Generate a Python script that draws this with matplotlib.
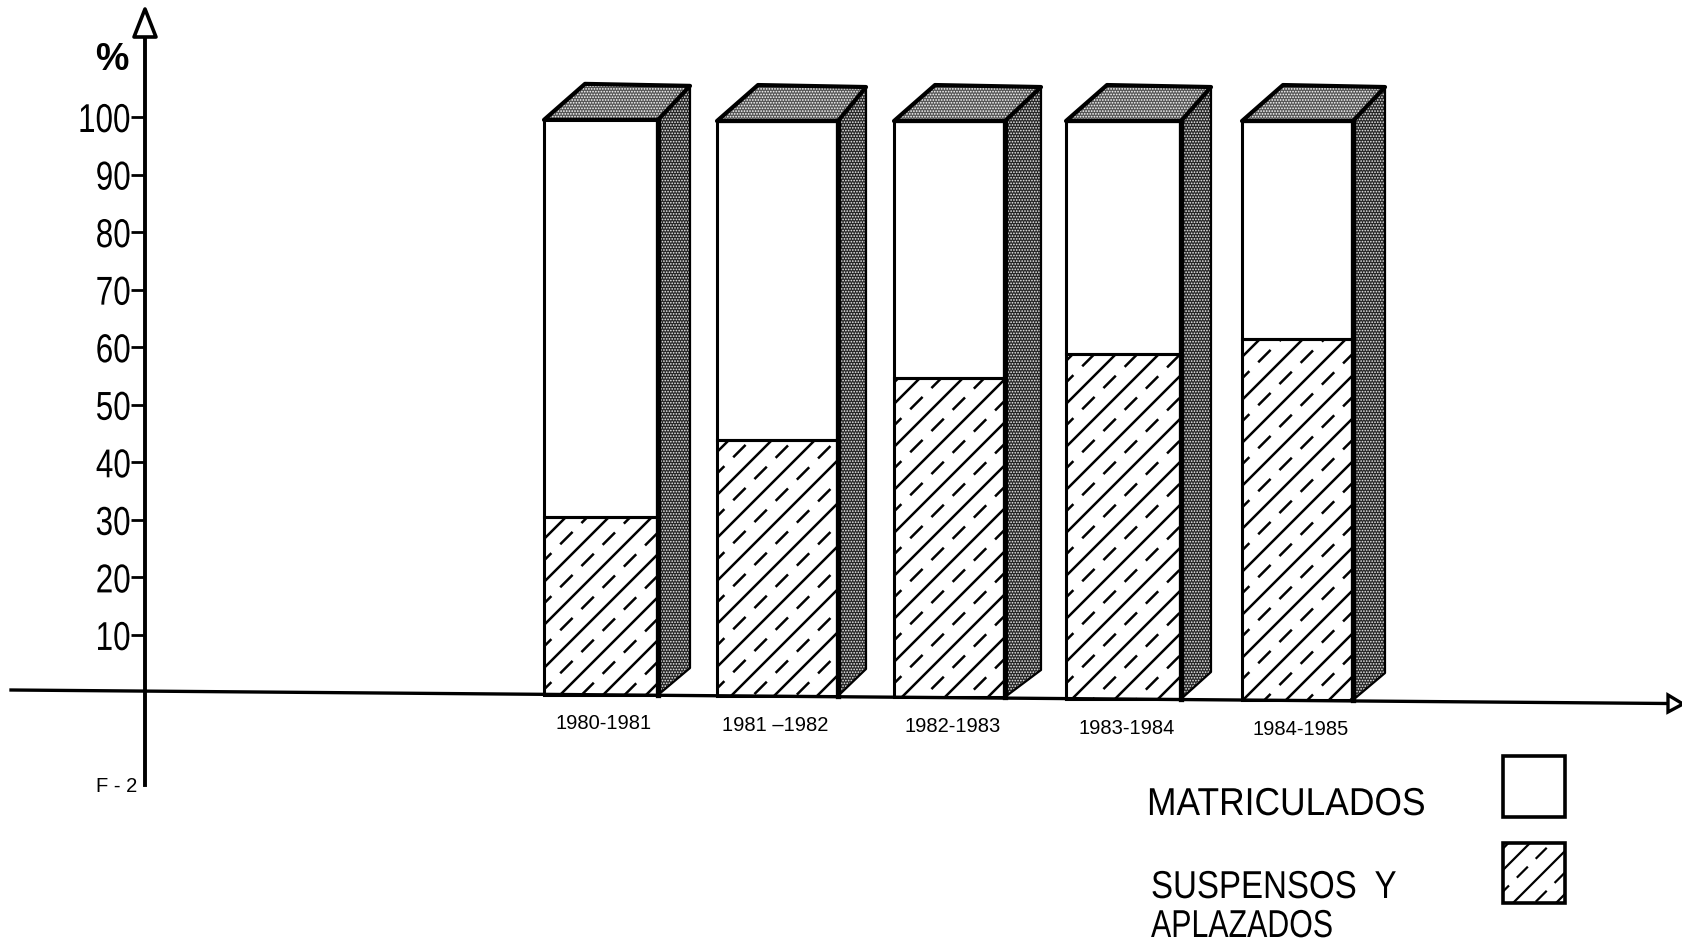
import matplotlib
matplotlib.use("Agg")
import matplotlib.pyplot as plt
import numpy as np
from matplotlib.patches import Polygon, Rectangle
from matplotlib.collections import LineCollection
from matplotlib.patheffects import AbstractPathEffect
from matplotlib.transforms import Affine2D

periods = ["1980-1981", "1981 –1982", "1982-1983", "1983-1984", "1984-1985"]
suspensos = [30.5, 43.8, 54.6, 58.9, 61.5]
matriculados = [69.0, 55.5, 44.7, 40.4, 37.8]
yticks = [10, 20, 30, 40, 50, 60, 70, 80, 90, 100]

# layout (pixels of the scan)
W, H = 1683, 943
bar_left = [544, 717, 894, 1066, 1242]
bar_right = [658, 838, 1005, 1181, 1353]
bar_back = [690, 866, 1041, 1211, 1385]
bar_base = [695, 696, 697, 699, 700]
PY0, PPU = 692.5, 5.755


def y_of(py):
    return (PY0 - py) / PPU


class Squeeze(AbstractPathEffect):
    """Narrow a text horizontally around one of its edges."""

    def __init__(self, sx, anchor="center"):
        super().__init__()
        self.sx, self.anchor = sx, anchor

    def draw_path(self, renderer, gc, tpath, affine, rgbFace=None):
        xs = affine.transform(tpath.vertices)[:, 0]
        x0 = {"left": xs.min(), "right": xs.max(), "center": (xs.min() + xs.max()) / 2}[self.anchor]
        t = affine + Affine2D().translate(-x0, 0).scale(self.sx, 1).translate(x0, 0)
        renderer.draw_path(gc, tpath, t, rgbFace)


plt.rcParams["font.family"] = ["Liberation Sans", "DejaVu Sans"]
plt.rcParams["hatch.linewidth"] = 0.8
fig = plt.figure(figsize=(W / 100, H / 100), dpi=100, facecolor="white")
ax = fig.add_axes([0, 0, 1, 1])
ax.set_xlim(0, W)
ax.set_ylim(y_of(H), y_of(0))
ax.patch.set_alpha(0)
for s in ("top", "right", "bottom"):
    ax.spines[s].set_visible(False)
ax.spines["left"].set_position(("data", 145))
ax.spines["left"].set_linewidth(2.8)
ax.spines["left"].set_bounds(y_of(785), y_of(36))
ax.set_xticks([])
ax.set_yticks(yticks)
ax.set_yticklabels([str(v) for v in yticks], fontsize=29)
ax.tick_params(axis="y", direction="out", length=10, width=2, pad=0)
for lab in ax.get_yticklabels():
    lab.set_path_effects([Squeeze(0.78, "right")])


def diagonals(x0, x1, y0, y1, offset, step=43.0):
    segs = []
    c0 = x0 + y0
    c1 = x1 + y1
    c = c0 - ((c0 - offset) % step) + step
    while c < c1 + step:
        segs.append([(x0 - 5, y_of(c - x0 + 5)), (x1 + 5, y_of(c - x1 - 5))])
        c += step
    return segs


def hatched(left, right, top_py, base_py, lw=1.8):
    rect = Rectangle((left, y_of(base_py)), right - left, y_of(top_py) - y_of(base_py),
                     facecolor="white", edgecolor="none", zorder=2)
    ax.add_patch(rect)
    solid = LineCollection(diagonals(left, right, top_py, base_py, 8), colors="black",
                           linewidths=lw, zorder=3)
    dashed = LineCollection(diagonals(left, right, top_py, base_py, 29.5), colors="black",
                            linewidths=lw, linestyles=[(0, (7, 5))], zorder=3)
    ax.add_collection(solid)
    ax.add_collection(dashed)
    solid.set_clip_path(rect)
    dashed.set_clip_path(rect)


for i, p in enumerate(periods):
    L, R, B, py_b = bar_left[i], bar_right[i], bar_back[i], bar_base[i]
    bottom = y_of(py_b)
    v_s = suspensos[i] - bottom
    ax.bar(L, v_s, width=R - L, bottom=bottom, align="edge", facecolor="none",
           edgecolor="none", zorder=1)
    ax.bar(L, matriculados[i], width=R - L, bottom=suspensos[i], align="edge",
           facecolor="white", edgecolor="black", linewidth=2.2, zorder=4)
    split_py = PY0 - suspensos[i] * PPU
    hatched(L, R, split_py, py_b)
    ax.add_patch(Rectangle((L, bottom), R - L, suspensos[i] - bottom, facecolor="none",
                           edgecolor="black", linewidth=2.2, zorder=4))
    top_val = suspensos[i] + matriculados[i]
    top_py = PY0 - top_val * PPU
    side = [(R, top_val), (B, y_of(top_py - 34)), (B, y_of(py_b - 27)), (R, bottom)]
    ax.add_patch(Polygon(side, closed=True, facecolor="#262626", edgecolor="#f0f0f0",
                         hatch="......", linewidth=0, zorder=2))
    ax.add_patch(Polygon(side, closed=True, facecolor="none", edgecolor="black",
                         linewidth=1.6, joinstyle="round", zorder=4))
    ax.plot([R, R], [bottom, top_val], color="black", lw=3.8, zorder=5)
    topf = [(L, top_val), (L + 41, y_of(top_py - 36)), (B, y_of(top_py - 34)), (R, top_val)]
    ax.add_patch(Polygon(topf, closed=True, facecolor="#555555", edgecolor="white",
                         hatch="......", linewidth=0, zorder=2))
    ax.add_patch(Polygon(topf, closed=True, facecolor="none", edgecolor="black",
                         linewidth=3, joinstyle="round", zorder=4))
    ax.text((L + R) / 2 + (3 if i != 1 else -2), y_of(723.5 + i * 1.6), p, ha="center",
            va="center", fontsize=14.5, zorder=6)

# baseline and arrow heads
ax.plot([11, 1668], [y_of(690), y_of(703.5)], color="black", lw=2.4, zorder=6)
ax.add_patch(Polygon([(1668, y_of(695)), (1683, y_of(704)), (1668, y_of(712))], closed=True,
                     facecolor="white", edgecolor="black", lw=2.4, zorder=7, clip_on=False))
ax.add_patch(Polygon([(134, y_of(37)), (145, y_of(9)), (156, y_of(37))], closed=True,
                     facecolor="white", edgecolor="black", lw=2.6, joinstyle="round", zorder=7))

ax.text(112, y_of(60), "%", ha="center", va="center", fontsize=27, fontweight="bold")
ax.text(117, y_of(786), "F - 2", ha="center", va="center", fontsize=14.5)

# legend
ax.add_patch(Rectangle((1503, y_of(817)), 62, 61 / PPU, facecolor="white", edgecolor="black",
                       lw=2.6, zorder=4))
hatched(1503, 1565, 843, 903, lw=1.6)
ax.add_patch(Rectangle((1503, y_of(903)), 62, 60 / PPU, facecolor="none", edgecolor="black",
                       lw=2.6, zorder=4))
for txt, x, py, sx in [("MATRICULADOS", 1147, 805, 0.91),
                       ("SUSPENSOS  Y", 1151, 888, 0.85),
                       ("APLAZADOS", 1151, 927, 0.78)]:
    t = ax.text(x, y_of(py), txt, ha="left", va="center", fontsize=28)
    t.set_path_effects([Squeeze(sx, "left")])

fig.savefig("out.png", dpi=100, facecolor="white")
